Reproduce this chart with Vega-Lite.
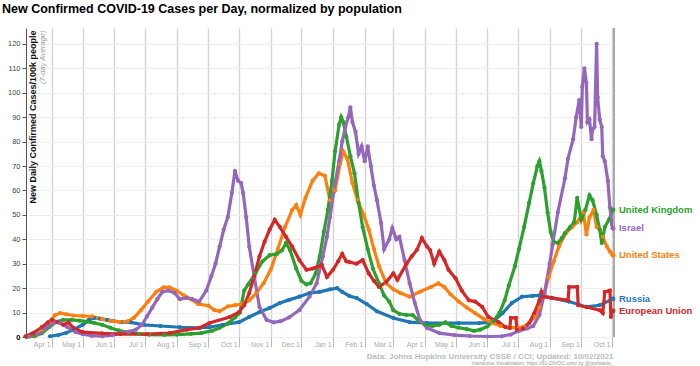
{
  "$schema": "https://vega.github.io/schema/vega-lite/v6.json",
  "width": 588,
  "height": 309,
  "autosize": {"type": "none"},
  "padding": {"left": 26, "top": 28, "right": 86, "bottom": 29},
  "background": "white",
  "config": {"view": {"stroke": null}, "font": "Liberation Sans"},
  "title": {
    "text": "New Confirmed COVID-19 Cases per Day, normalized by population",
    "anchor": "start",
    "frame": "group",
    "dx": -24,
    "offset": 2,
    "baseline": "alphabetic",
    "fontSize": 12.5,
    "font": "Liberation Sans",
    "fontWeight": "bold",
    "color": "#000000"
  },
  "datasets": {
    "labels": [
      {"country": "United Kingdom", "date": "2021-10-02", "value": 52},
      {"country": "Israel", "date": "2021-10-02", "value": 44.5},
      {"country": "United States", "date": "2021-10-02", "value": 33.5},
      {"country": "Russia", "date": "2021-10-02", "value": 15.6},
      {"country": "European Union", "date": "2021-10-02", "value": 10.7}
    ],
    "series": [
      {"country": "Russia", "date": "2020-03-30", "value": 0.3},
      {"country": "Russia", "date": "2020-04-07", "value": 0.8},
      {"country": "Russia", "date": "2020-04-15", "value": 1.7},
      {"country": "Russia", "date": "2020-04-22", "value": 3},
      {"country": "Russia", "date": "2020-05-01", "value": 5},
      {"country": "Russia", "date": "2020-05-07", "value": 7},
      {"country": "Russia", "date": "2020-05-12", "value": 7.8},
      {"country": "Russia", "date": "2020-05-18", "value": 7.5},
      {"country": "Russia", "date": "2020-05-25", "value": 7},
      {"country": "Russia", "date": "2020-06-07", "value": 6.1},
      {"country": "Russia", "date": "2020-06-17", "value": 6},
      {"country": "Russia", "date": "2020-06-30", "value": 5},
      {"country": "Russia", "date": "2020-07-16", "value": 4.5},
      {"country": "Russia", "date": "2020-08-04", "value": 4},
      {"country": "Russia", "date": "2020-08-23", "value": 3.7},
      {"country": "Russia", "date": "2020-09-02", "value": 4},
      {"country": "Russia", "date": "2020-09-15", "value": 5},
      {"country": "Russia", "date": "2020-10-01", "value": 6.1},
      {"country": "Russia", "date": "2020-10-11", "value": 8.2},
      {"country": "Russia", "date": "2020-10-21", "value": 10.2},
      {"country": "Russia", "date": "2020-10-31", "value": 11.9},
      {"country": "Russia", "date": "2020-11-10", "value": 13.9},
      {"country": "Russia", "date": "2020-11-19", "value": 15.2},
      {"country": "Russia", "date": "2020-11-29", "value": 16.5},
      {"country": "Russia", "date": "2020-12-09", "value": 18},
      {"country": "Russia", "date": "2020-12-19", "value": 18.5},
      {"country": "Russia", "date": "2020-12-29", "value": 19.5},
      {"country": "Russia", "date": "2021-01-05", "value": 20},
      {"country": "Russia", "date": "2021-01-10", "value": 18.5},
      {"country": "Russia", "date": "2021-01-17", "value": 16.8},
      {"country": "Russia", "date": "2021-01-24", "value": 16},
      {"country": "Russia", "date": "2021-02-03", "value": 13.5},
      {"country": "Russia", "date": "2021-02-13", "value": 10.5},
      {"country": "Russia", "date": "2021-03-01", "value": 7.8},
      {"country": "Russia", "date": "2021-03-17", "value": 6.1},
      {"country": "Russia", "date": "2021-04-03", "value": 5.7},
      {"country": "Russia", "date": "2021-05-04", "value": 5.7},
      {"country": "Russia", "date": "2021-05-24", "value": 5.7},
      {"country": "Russia", "date": "2021-06-06", "value": 6.1},
      {"country": "Russia", "date": "2021-06-16", "value": 9.8},
      {"country": "Russia", "date": "2021-06-25", "value": 13.9},
      {"country": "Russia", "date": "2021-07-05", "value": 16.5},
      {"country": "Russia", "date": "2021-07-15", "value": 16.8},
      {"country": "Russia", "date": "2021-07-22", "value": 17},
      {"country": "Russia", "date": "2021-08-03", "value": 16},
      {"country": "Russia", "date": "2021-08-20", "value": 14.5},
      {"country": "Russia", "date": "2021-09-06", "value": 12.3},
      {"country": "Russia", "date": "2021-09-19", "value": 13},
      {"country": "Russia", "date": "2021-10-02", "value": 15.6},

      {"country": "United States", "date": "2020-03-07", "value": 0},
      {"country": "United States", "date": "2020-03-15", "value": 0.3},
      {"country": "United States", "date": "2020-03-22", "value": 2},
      {"country": "United States", "date": "2020-03-29", "value": 6},
      {"country": "United States", "date": "2020-04-04", "value": 9},
      {"country": "United States", "date": "2020-04-09", "value": 9.8},
      {"country": "United States", "date": "2020-04-15", "value": 9.3},
      {"country": "United States", "date": "2020-04-22", "value": 8.8},
      {"country": "United States", "date": "2020-05-01", "value": 8.6},
      {"country": "United States", "date": "2020-05-10", "value": 8.4},
      {"country": "United States", "date": "2020-05-20", "value": 7.3},
      {"country": "United States", "date": "2020-05-28", "value": 6.6},
      {"country": "United States", "date": "2020-06-06", "value": 6.2},
      {"country": "United States", "date": "2020-06-14", "value": 6.4},
      {"country": "United States", "date": "2020-06-20", "value": 7.8},
      {"country": "United States", "date": "2020-06-27", "value": 11},
      {"country": "United States", "date": "2020-07-04", "value": 14.5},
      {"country": "United States", "date": "2020-07-12", "value": 18.5},
      {"country": "United States", "date": "2020-07-19", "value": 20.3},
      {"country": "United States", "date": "2020-07-25", "value": 20.3},
      {"country": "United States", "date": "2020-08-01", "value": 19},
      {"country": "United States", "date": "2020-08-08", "value": 17},
      {"country": "United States", "date": "2020-08-15", "value": 15.5},
      {"country": "United States", "date": "2020-08-22", "value": 13.5},
      {"country": "United States", "date": "2020-09-01", "value": 12.8},
      {"country": "United States", "date": "2020-09-07", "value": 11},
      {"country": "United States", "date": "2020-09-12", "value": 10.5},
      {"country": "United States", "date": "2020-09-20", "value": 12.5},
      {"country": "United States", "date": "2020-09-27", "value": 13},
      {"country": "United States", "date": "2020-10-04", "value": 13.5},
      {"country": "United States", "date": "2020-10-11", "value": 15},
      {"country": "United States", "date": "2020-10-18", "value": 18},
      {"country": "United States", "date": "2020-10-25", "value": 22},
      {"country": "United States", "date": "2020-11-01", "value": 27.5},
      {"country": "United States", "date": "2020-11-08", "value": 36},
      {"country": "United States", "date": "2020-11-15", "value": 45},
      {"country": "United States", "date": "2020-11-22", "value": 52},
      {"country": "United States", "date": "2020-11-26", "value": 54},
      {"country": "United States", "date": "2020-11-30", "value": 50},
      {"country": "United States", "date": "2020-12-05", "value": 57},
      {"country": "United States", "date": "2020-12-12", "value": 64},
      {"country": "United States", "date": "2020-12-18", "value": 67},
      {"country": "United States", "date": "2020-12-24", "value": 66},
      {"country": "United States", "date": "2020-12-29", "value": 56},
      {"country": "United States", "date": "2021-01-03", "value": 60},
      {"country": "United States", "date": "2021-01-08", "value": 71},
      {"country": "United States", "date": "2021-01-11", "value": 76},
      {"country": "United States", "date": "2021-01-15", "value": 73},
      {"country": "United States", "date": "2021-01-20", "value": 63},
      {"country": "United States", "date": "2021-01-25", "value": 56},
      {"country": "United States", "date": "2021-01-31", "value": 50},
      {"country": "United States", "date": "2021-02-05", "value": 44},
      {"country": "United States", "date": "2021-02-10", "value": 36},
      {"country": "United States", "date": "2021-02-15", "value": 29},
      {"country": "United States", "date": "2021-02-22", "value": 22},
      {"country": "United States", "date": "2021-03-01", "value": 19.5},
      {"country": "United States", "date": "2021-03-08", "value": 18},
      {"country": "United States", "date": "2021-03-17", "value": 16.5},
      {"country": "United States", "date": "2021-03-27", "value": 18.5},
      {"country": "United States", "date": "2021-04-07", "value": 20.5},
      {"country": "United States", "date": "2021-04-14", "value": 22},
      {"country": "United States", "date": "2021-04-20", "value": 20.5},
      {"country": "United States", "date": "2021-04-26", "value": 17.5},
      {"country": "United States", "date": "2021-05-04", "value": 14.5},
      {"country": "United States", "date": "2021-05-12", "value": 12},
      {"country": "United States", "date": "2021-05-20", "value": 9.8},
      {"country": "United States", "date": "2021-05-28", "value": 7.5},
      {"country": "United States", "date": "2021-06-06", "value": 5.7},
      {"country": "United States", "date": "2021-06-14", "value": 4.5},
      {"country": "United States", "date": "2021-06-22", "value": 3.8},
      {"country": "United States", "date": "2021-07-02", "value": 3.8},
      {"country": "United States", "date": "2021-07-07", "value": 4.3},
      {"country": "United States", "date": "2021-07-12", "value": 5.7},
      {"country": "United States", "date": "2021-07-18", "value": 8.5},
      {"country": "United States", "date": "2021-07-22", "value": 12},
      {"country": "United States", "date": "2021-07-27", "value": 18},
      {"country": "United States", "date": "2021-07-31", "value": 24.5},
      {"country": "United States", "date": "2021-08-05", "value": 31},
      {"country": "United States", "date": "2021-08-10", "value": 37},
      {"country": "United States", "date": "2021-08-17", "value": 42.6},
      {"country": "United States", "date": "2021-08-23", "value": 45},
      {"country": "United States", "date": "2021-08-28", "value": 47},
      {"country": "United States", "date": "2021-09-03", "value": 51},
      {"country": "United States", "date": "2021-09-06", "value": 42},
      {"country": "United States", "date": "2021-09-09", "value": 49},
      {"country": "United States", "date": "2021-09-13", "value": 52},
      {"country": "United States", "date": "2021-09-16", "value": 45},
      {"country": "United States", "date": "2021-09-19", "value": 44},
      {"country": "United States", "date": "2021-09-22", "value": 41},
      {"country": "United States", "date": "2021-09-26", "value": 37},
      {"country": "United States", "date": "2021-09-29", "value": 35},
      {"country": "United States", "date": "2021-10-02", "value": 33.5},

      {"country": "United Kingdom", "date": "2020-03-07", "value": 0.1},
      {"country": "United Kingdom", "date": "2020-03-15", "value": 0.4},
      {"country": "United Kingdom", "date": "2020-03-22", "value": 1.5},
      {"country": "United Kingdom", "date": "2020-03-29", "value": 4},
      {"country": "United Kingdom", "date": "2020-04-05", "value": 6.2},
      {"country": "United Kingdom", "date": "2020-04-12", "value": 7},
      {"country": "United Kingdom", "date": "2020-04-20", "value": 7},
      {"country": "United Kingdom", "date": "2020-04-28", "value": 6.7},
      {"country": "United Kingdom", "date": "2020-05-05", "value": 6.3},
      {"country": "United Kingdom", "date": "2020-05-12", "value": 5.8},
      {"country": "United Kingdom", "date": "2020-05-20", "value": 5},
      {"country": "United Kingdom", "date": "2020-05-28", "value": 3.8},
      {"country": "United Kingdom", "date": "2020-06-05", "value": 2.7},
      {"country": "United Kingdom", "date": "2020-06-15", "value": 1.8},
      {"country": "United Kingdom", "date": "2020-06-25", "value": 1.3},
      {"country": "United Kingdom", "date": "2020-07-05", "value": 1},
      {"country": "United Kingdom", "date": "2020-07-20", "value": 0.9},
      {"country": "United Kingdom", "date": "2020-08-01", "value": 1},
      {"country": "United Kingdom", "date": "2020-08-15", "value": 1.3},
      {"country": "United Kingdom", "date": "2020-08-25", "value": 1.6},
      {"country": "United Kingdom", "date": "2020-09-05", "value": 2.6},
      {"country": "United Kingdom", "date": "2020-09-12", "value": 3.8},
      {"country": "United Kingdom", "date": "2020-09-20", "value": 5.5},
      {"country": "United Kingdom", "date": "2020-09-27", "value": 8},
      {"country": "United Kingdom", "date": "2020-10-02", "value": 10},
      {"country": "United Kingdom", "date": "2020-10-06", "value": 19},
      {"country": "United Kingdom", "date": "2020-10-10", "value": 21.5},
      {"country": "United Kingdom", "date": "2020-10-17", "value": 26},
      {"country": "United Kingdom", "date": "2020-10-24", "value": 31},
      {"country": "United Kingdom", "date": "2020-10-31", "value": 33.5},
      {"country": "United Kingdom", "date": "2020-11-07", "value": 34},
      {"country": "United Kingdom", "date": "2020-11-12", "value": 35.5},
      {"country": "United Kingdom", "date": "2020-11-16", "value": 38.5},
      {"country": "United Kingdom", "date": "2020-11-20", "value": 35.5},
      {"country": "United Kingdom", "date": "2020-11-26", "value": 28},
      {"country": "United Kingdom", "date": "2020-12-01", "value": 23},
      {"country": "United Kingdom", "date": "2020-12-06", "value": 21.5},
      {"country": "United Kingdom", "date": "2020-12-10", "value": 22},
      {"country": "United Kingdom", "date": "2020-12-15", "value": 26},
      {"country": "United Kingdom", "date": "2020-12-19", "value": 33},
      {"country": "United Kingdom", "date": "2020-12-23", "value": 43},
      {"country": "United Kingdom", "date": "2020-12-27", "value": 52},
      {"country": "United Kingdom", "date": "2020-12-31", "value": 64},
      {"country": "United Kingdom", "date": "2021-01-03", "value": 76},
      {"country": "United Kingdom", "date": "2021-01-07", "value": 87},
      {"country": "United Kingdom", "date": "2021-01-09", "value": 90},
      {"country": "United Kingdom", "date": "2021-01-11", "value": 88},
      {"country": "United Kingdom", "date": "2021-01-14", "value": 82},
      {"country": "United Kingdom", "date": "2021-01-18", "value": 74},
      {"country": "United Kingdom", "date": "2021-01-22", "value": 67},
      {"country": "United Kingdom", "date": "2021-01-26", "value": 55},
      {"country": "United Kingdom", "date": "2021-01-30", "value": 45},
      {"country": "United Kingdom", "date": "2021-02-04", "value": 36},
      {"country": "United Kingdom", "date": "2021-02-09", "value": 28},
      {"country": "United Kingdom", "date": "2021-02-15", "value": 22},
      {"country": "United Kingdom", "date": "2021-02-20", "value": 17},
      {"country": "United Kingdom", "date": "2021-02-25", "value": 14.5},
      {"country": "United Kingdom", "date": "2021-03-01", "value": 11},
      {"country": "United Kingdom", "date": "2021-03-07", "value": 9.5},
      {"country": "United Kingdom", "date": "2021-03-14", "value": 9},
      {"country": "United Kingdom", "date": "2021-03-20", "value": 9},
      {"country": "United Kingdom", "date": "2021-03-25", "value": 7},
      {"country": "United Kingdom", "date": "2021-04-01", "value": 5.2},
      {"country": "United Kingdom", "date": "2021-04-08", "value": 4.5},
      {"country": "United Kingdom", "date": "2021-04-15", "value": 5},
      {"country": "United Kingdom", "date": "2021-04-21", "value": 6},
      {"country": "United Kingdom", "date": "2021-04-27", "value": 4.5},
      {"country": "United Kingdom", "date": "2021-05-04", "value": 3.8},
      {"country": "United Kingdom", "date": "2021-05-12", "value": 3.2},
      {"country": "United Kingdom", "date": "2021-05-19", "value": 2.5},
      {"country": "United Kingdom", "date": "2021-05-25", "value": 3},
      {"country": "United Kingdom", "date": "2021-06-01", "value": 4.3},
      {"country": "United Kingdom", "date": "2021-06-07", "value": 6.5},
      {"country": "United Kingdom", "date": "2021-06-13", "value": 10},
      {"country": "United Kingdom", "date": "2021-06-18", "value": 15},
      {"country": "United Kingdom", "date": "2021-06-22", "value": 21},
      {"country": "United Kingdom", "date": "2021-06-28", "value": 29},
      {"country": "United Kingdom", "date": "2021-07-02", "value": 36},
      {"country": "United Kingdom", "date": "2021-07-07", "value": 45},
      {"country": "United Kingdom", "date": "2021-07-12", "value": 55},
      {"country": "United Kingdom", "date": "2021-07-16", "value": 63},
      {"country": "United Kingdom", "date": "2021-07-20", "value": 70},
      {"country": "United Kingdom", "date": "2021-07-22", "value": 72},
      {"country": "United Kingdom", "date": "2021-07-24", "value": 68},
      {"country": "United Kingdom", "date": "2021-07-27", "value": 61},
      {"country": "United Kingdom", "date": "2021-07-30", "value": 51},
      {"country": "United Kingdom", "date": "2021-08-02", "value": 43},
      {"country": "United Kingdom", "date": "2021-08-05", "value": 39},
      {"country": "United Kingdom", "date": "2021-08-09", "value": 38.5},
      {"country": "United Kingdom", "date": "2021-08-13", "value": 40.5},
      {"country": "United Kingdom", "date": "2021-08-16", "value": 42.5},
      {"country": "United Kingdom", "date": "2021-08-21", "value": 45},
      {"country": "United Kingdom", "date": "2021-08-25", "value": 47},
      {"country": "United Kingdom", "date": "2021-08-28", "value": 57},
      {"country": "United Kingdom", "date": "2021-09-01", "value": 48},
      {"country": "United Kingdom", "date": "2021-09-05", "value": 52},
      {"country": "United Kingdom", "date": "2021-09-09", "value": 58},
      {"country": "United Kingdom", "date": "2021-09-12", "value": 56},
      {"country": "United Kingdom", "date": "2021-09-16", "value": 50},
      {"country": "United Kingdom", "date": "2021-09-19", "value": 44},
      {"country": "United Kingdom", "date": "2021-09-21", "value": 38.5},
      {"country": "United Kingdom", "date": "2021-09-24", "value": 45},
      {"country": "United Kingdom", "date": "2021-09-28", "value": 48},
      {"country": "United Kingdom", "date": "2021-10-02", "value": 52},

      {"country": "Israel", "date": "2020-03-10", "value": 0.2},
      {"country": "Israel", "date": "2020-03-20", "value": 1.5},
      {"country": "Israel", "date": "2020-03-28", "value": 4.5},
      {"country": "Israel", "date": "2020-04-03", "value": 6},
      {"country": "Israel", "date": "2020-04-09", "value": 5.8},
      {"country": "Israel", "date": "2020-04-16", "value": 4},
      {"country": "Israel", "date": "2020-04-24", "value": 2},
      {"country": "Israel", "date": "2020-05-01", "value": 1.2},
      {"country": "Israel", "date": "2020-05-10", "value": 0.5},
      {"country": "Israel", "date": "2020-05-20", "value": 0.3},
      {"country": "Israel", "date": "2020-05-30", "value": 0.8},
      {"country": "Israel", "date": "2020-06-07", "value": 1.5},
      {"country": "Israel", "date": "2020-06-15", "value": 2.2},
      {"country": "Israel", "date": "2020-06-22", "value": 3},
      {"country": "Israel", "date": "2020-06-28", "value": 5},
      {"country": "Israel", "date": "2020-07-03", "value": 8.5},
      {"country": "Israel", "date": "2020-07-08", "value": 12},
      {"country": "Israel", "date": "2020-07-13", "value": 15.5},
      {"country": "Israel", "date": "2020-07-18", "value": 18.5},
      {"country": "Israel", "date": "2020-07-24", "value": 19},
      {"country": "Israel", "date": "2020-07-30", "value": 18},
      {"country": "Israel", "date": "2020-08-04", "value": 15.5},
      {"country": "Israel", "date": "2020-08-10", "value": 16},
      {"country": "Israel", "date": "2020-08-16", "value": 15.5},
      {"country": "Israel", "date": "2020-08-23", "value": 14.5},
      {"country": "Israel", "date": "2020-08-30", "value": 19},
      {"country": "Israel", "date": "2020-09-04", "value": 25},
      {"country": "Israel", "date": "2020-09-08", "value": 30},
      {"country": "Israel", "date": "2020-09-12", "value": 37},
      {"country": "Israel", "date": "2020-09-16", "value": 44},
      {"country": "Israel", "date": "2020-09-20", "value": 49},
      {"country": "Israel", "date": "2020-09-24", "value": 59},
      {"country": "Israel", "date": "2020-09-27", "value": 68},
      {"country": "Israel", "date": "2020-09-30", "value": 64},
      {"country": "Israel", "date": "2020-10-03", "value": 63},
      {"country": "Israel", "date": "2020-10-05", "value": 59},
      {"country": "Israel", "date": "2020-10-08", "value": 49},
      {"country": "Israel", "date": "2020-10-11", "value": 37},
      {"country": "Israel", "date": "2020-10-16", "value": 24.5},
      {"country": "Israel", "date": "2020-10-21", "value": 12.3},
      {"country": "Israel", "date": "2020-10-28", "value": 7},
      {"country": "Israel", "date": "2020-11-04", "value": 6},
      {"country": "Israel", "date": "2020-11-11", "value": 6.5},
      {"country": "Israel", "date": "2020-11-19", "value": 8},
      {"country": "Israel", "date": "2020-11-29", "value": 11},
      {"country": "Israel", "date": "2020-12-09", "value": 16.5},
      {"country": "Israel", "date": "2020-12-16", "value": 22},
      {"country": "Israel", "date": "2020-12-22", "value": 33},
      {"country": "Israel", "date": "2020-12-26", "value": 41},
      {"country": "Israel", "date": "2020-12-29", "value": 49},
      {"country": "Israel", "date": "2021-01-03", "value": 63},
      {"country": "Israel", "date": "2021-01-07", "value": 72},
      {"country": "Israel", "date": "2021-01-10", "value": 80},
      {"country": "Israel", "date": "2021-01-13", "value": 86},
      {"country": "Israel", "date": "2021-01-16", "value": 90},
      {"country": "Israel", "date": "2021-01-18", "value": 94},
      {"country": "Israel", "date": "2021-01-20", "value": 88},
      {"country": "Israel", "date": "2021-01-23", "value": 84},
      {"country": "Israel", "date": "2021-01-26", "value": 75},
      {"country": "Israel", "date": "2021-01-29", "value": 78},
      {"country": "Israel", "date": "2021-02-01", "value": 72},
      {"country": "Israel", "date": "2021-02-04", "value": 78},
      {"country": "Israel", "date": "2021-02-07", "value": 70},
      {"country": "Israel", "date": "2021-02-10", "value": 62},
      {"country": "Israel", "date": "2021-02-13", "value": 56},
      {"country": "Israel", "date": "2021-02-17", "value": 46.7},
      {"country": "Israel", "date": "2021-02-20", "value": 36},
      {"country": "Israel", "date": "2021-02-25", "value": 40},
      {"country": "Israel", "date": "2021-02-28", "value": 44.6},
      {"country": "Israel", "date": "2021-03-04", "value": 40},
      {"country": "Israel", "date": "2021-03-07", "value": 41},
      {"country": "Israel", "date": "2021-03-12", "value": 31.5},
      {"country": "Israel", "date": "2021-03-17", "value": 22},
      {"country": "Israel", "date": "2021-03-22", "value": 14},
      {"country": "Israel", "date": "2021-03-27", "value": 7},
      {"country": "Israel", "date": "2021-04-03", "value": 3.7},
      {"country": "Israel", "date": "2021-04-15", "value": 1.6},
      {"country": "Israel", "date": "2021-04-30", "value": 0.8},
      {"country": "Israel", "date": "2021-05-15", "value": 0.4},
      {"country": "Israel", "date": "2021-06-01", "value": 0.2},
      {"country": "Israel", "date": "2021-06-15", "value": 0.3},
      {"country": "Israel", "date": "2021-06-24", "value": 1},
      {"country": "Israel", "date": "2021-07-02", "value": 2.5},
      {"country": "Israel", "date": "2021-07-10", "value": 3.5},
      {"country": "Israel", "date": "2021-07-16", "value": 4.5},
      {"country": "Israel", "date": "2021-07-22", "value": 9},
      {"country": "Israel", "date": "2021-07-27", "value": 18},
      {"country": "Israel", "date": "2021-08-01", "value": 30},
      {"country": "Israel", "date": "2021-08-04", "value": 38},
      {"country": "Israel", "date": "2021-08-09", "value": 51},
      {"country": "Israel", "date": "2021-08-16", "value": 65},
      {"country": "Israel", "date": "2021-08-19", "value": 73},
      {"country": "Israel", "date": "2021-08-24", "value": 81},
      {"country": "Israel", "date": "2021-08-27", "value": 90},
      {"country": "Israel", "date": "2021-08-30", "value": 97},
      {"country": "Israel", "date": "2021-09-01", "value": 86},
      {"country": "Israel", "date": "2021-09-02", "value": 102.5},
      {"country": "Israel", "date": "2021-09-04", "value": 110},
      {"country": "Israel", "date": "2021-09-06", "value": 104},
      {"country": "Israel", "date": "2021-09-07", "value": 88},
      {"country": "Israel", "date": "2021-09-09", "value": 89},
      {"country": "Israel", "date": "2021-09-11", "value": 81},
      {"country": "Israel", "date": "2021-09-12", "value": 85},
      {"country": "Israel", "date": "2021-09-14", "value": 86},
      {"country": "Israel", "date": "2021-09-16", "value": 120},
      {"country": "Israel", "date": "2021-09-17", "value": 98},
      {"country": "Israel", "date": "2021-09-19", "value": 89},
      {"country": "Israel", "date": "2021-09-21", "value": 86},
      {"country": "Israel", "date": "2021-09-22", "value": 74},
      {"country": "Israel", "date": "2021-09-24", "value": 72},
      {"country": "Israel", "date": "2021-09-27", "value": 64},
      {"country": "Israel", "date": "2021-09-29", "value": 53},
      {"country": "Israel", "date": "2021-10-01", "value": 46},
      {"country": "Israel", "date": "2021-10-02", "value": 44.5},

      {"country": "European Union", "date": "2020-03-06", "value": 0.3},
      {"country": "European Union", "date": "2020-03-13", "value": 1.5},
      {"country": "European Union", "date": "2020-03-22", "value": 4},
      {"country": "European Union", "date": "2020-03-28", "value": 6},
      {"country": "European Union", "date": "2020-04-01", "value": 7},
      {"country": "European Union", "date": "2020-04-06", "value": 6.2},
      {"country": "European Union", "date": "2020-04-12", "value": 5},
      {"country": "European Union", "date": "2020-04-17", "value": 6},
      {"country": "European Union", "date": "2020-04-22", "value": 3.7},
      {"country": "European Union", "date": "2020-05-01", "value": 2},
      {"country": "European Union", "date": "2020-05-20", "value": 1.5},
      {"country": "European Union", "date": "2020-06-07", "value": 1.2},
      {"country": "European Union", "date": "2020-07-03", "value": 1.2},
      {"country": "European Union", "date": "2020-07-25", "value": 1.6},
      {"country": "European Union", "date": "2020-08-11", "value": 3},
      {"country": "European Union", "date": "2020-08-23", "value": 3.7},
      {"country": "European Union", "date": "2020-09-02", "value": 5.7},
      {"country": "European Union", "date": "2020-09-22", "value": 8.2},
      {"country": "European Union", "date": "2020-10-01", "value": 10.2},
      {"country": "European Union", "date": "2020-10-06", "value": 13},
      {"country": "European Union", "date": "2020-10-11", "value": 18},
      {"country": "European Union", "date": "2020-10-16", "value": 25},
      {"country": "European Union", "date": "2020-10-21", "value": 33},
      {"country": "European Union", "date": "2020-10-26", "value": 39},
      {"country": "European Union", "date": "2020-10-31", "value": 44},
      {"country": "European Union", "date": "2020-11-05", "value": 48},
      {"country": "European Union", "date": "2020-11-10", "value": 45},
      {"country": "European Union", "date": "2020-11-16", "value": 41},
      {"country": "European Union", "date": "2020-11-22", "value": 37},
      {"country": "European Union", "date": "2020-11-29", "value": 31.5},
      {"country": "European Union", "date": "2020-12-06", "value": 27.5},
      {"country": "European Union", "date": "2020-12-12", "value": 28},
      {"country": "European Union", "date": "2020-12-21", "value": 29.5},
      {"country": "European Union", "date": "2020-12-26", "value": 24.6},
      {"country": "European Union", "date": "2021-01-01", "value": 27.5},
      {"country": "European Union", "date": "2021-01-06", "value": 31},
      {"country": "European Union", "date": "2021-01-10", "value": 34},
      {"country": "European Union", "date": "2021-01-14", "value": 31},
      {"country": "European Union", "date": "2021-01-17", "value": 30.7},
      {"country": "European Union", "date": "2021-01-24", "value": 30},
      {"country": "European Union", "date": "2021-01-30", "value": 31.5},
      {"country": "European Union", "date": "2021-02-05", "value": 26},
      {"country": "European Union", "date": "2021-02-10", "value": 23},
      {"country": "European Union", "date": "2021-02-15", "value": 20.5},
      {"country": "European Union", "date": "2021-02-22", "value": 22.5},
      {"country": "European Union", "date": "2021-03-01", "value": 26},
      {"country": "European Union", "date": "2021-03-05", "value": 23.4},
      {"country": "European Union", "date": "2021-03-14", "value": 30},
      {"country": "European Union", "date": "2021-03-19", "value": 33},
      {"country": "European Union", "date": "2021-03-24", "value": 35.6},
      {"country": "European Union", "date": "2021-03-29", "value": 40.5},
      {"country": "European Union", "date": "2021-04-03", "value": 37},
      {"country": "European Union", "date": "2021-04-06", "value": 35.6},
      {"country": "European Union", "date": "2021-04-10", "value": 30},
      {"country": "European Union", "date": "2021-04-15", "value": 35},
      {"country": "European Union", "date": "2021-04-20", "value": 31.5},
      {"country": "European Union", "date": "2021-04-24", "value": 27.5},
      {"country": "European Union", "date": "2021-05-01", "value": 24},
      {"country": "European Union", "date": "2021-05-07", "value": 19},
      {"country": "European Union", "date": "2021-05-14", "value": 15},
      {"country": "European Union", "date": "2021-05-20", "value": 14.5},
      {"country": "European Union", "date": "2021-05-27", "value": 12.3},
      {"country": "European Union", "date": "2021-06-02", "value": 8.2},
      {"country": "European Union", "date": "2021-06-12", "value": 6.1},
      {"country": "European Union", "date": "2021-06-19", "value": 4},
      {"country": "European Union", "date": "2021-06-23", "value": 3.7},
      {"country": "European Union", "date": "2021-06-24", "value": 7.8},
      {"country": "European Union", "date": "2021-06-29", "value": 7.8},
      {"country": "European Union", "date": "2021-06-30", "value": 3},
      {"country": "European Union", "date": "2021-07-06", "value": 3.5},
      {"country": "European Union", "date": "2021-07-12", "value": 5.7},
      {"country": "European Union", "date": "2021-07-17", "value": 9.8},
      {"country": "European Union", "date": "2021-07-22", "value": 15},
      {"country": "European Union", "date": "2021-07-24", "value": 18.5},
      {"country": "European Union", "date": "2021-07-26", "value": 16.5},
      {"country": "European Union", "date": "2021-08-03", "value": 16},
      {"country": "European Union", "date": "2021-08-19", "value": 15},
      {"country": "European Union", "date": "2021-08-20", "value": 20.5},
      {"country": "European Union", "date": "2021-08-28", "value": 20.5},
      {"country": "European Union", "date": "2021-08-29", "value": 13},
      {"country": "European Union", "date": "2021-09-06", "value": 12.3},
      {"country": "European Union", "date": "2021-09-19", "value": 11},
      {"country": "European Union", "date": "2021-09-22", "value": 9.8},
      {"country": "European Union", "date": "2021-09-24", "value": 18.5},
      {"country": "European Union", "date": "2021-09-29", "value": 19},
      {"country": "European Union", "date": "2021-09-30", "value": 8.2},
      {"country": "European Union", "date": "2021-10-02", "value": 10.7}
    ]
  },
  "resolve": {"axis": {"x": "independent", "y": "independent"}},
  "layer": [
    {
      "data": {"name": "series"},
      "mark": {"type": "line", "strokeWidth": 3.2, "point": {"filled": true, "size": 18}},
      "encoding": {
        "x": {
          "field": "date", "type": "temporal",
          "scale": {"domain": [{"year": 2020, "month": 3, "date": 6, "hours": 12}, {"year": 2021, "month": 10, "date": 3}]},
          "axis": {
            "tickCount": {"interval": "month", "step": 1},
            "format": "%b %-d",
            "labelAlign": "right",
            "labelOffset": -2,
            "labelPadding": -7,
            "labelFontSize": 7,
            "labelColor": "#aaaaaa",
            "labelFont": "Liberation Sans",
            "labelOverlap": false,
            "labelFlush": false,
            "tickSize": 10,
            "tickColor": "#bbbbbb",
            "tickWidth": 1,
            "grid": true,
            "gridColor": "#d4d4d4",
            "gridWidth": 1.4,
            "domain": false,
            "title": "Data: Johns Hopkins University CSSE / CCI; Updated: 10/02/2021",
            "titleX": 587,
            "titleY": 21,
            "titleAlign": "right",
            "titleBaseline": "alphabetic",
            "titleFontSize": 8,
            "titleFontWeight": "bold",
            "titleColor": "#bbbbbb",
            "titleFont": "Liberation Sans"
          }
        },
        "y": {
          "field": "value", "type": "quantitative",
          "scale": {"domain": [0, 126.5], "nice": false},
          "axis": {
            "values": [0, 10, 20, 30, 40, 50, 60, 70, 80, 90, 100, 110, 120],
            "tickSize": 4,
            "tickColor": "#555555",
            "labelPadding": 2,
            "labelFontSize": 7.5,
            "labelColor": {"condition": {"test": "datum.value === 0", "value": "#000000"}, "value": "#444444"},
            "labelFontWeight": {"condition": {"test": "datum.value === 0", "value": "bold"}, "value": "normal"},
            "labelFont": "Liberation Sans",
            "grid": true,
            "gridColor": "#eeeeee",
            "gridWidth": 1,
            "domainColor": "#555555",
            "title": "New Daily Confirmed Cases/100k people",
            "titleAngle": -90,
            "titleX": 2,
            "titleY": 2,
            "titleAlign": "right",
            "titleBaseline": "top",
            "titleFontSize": 9,
            "titleFontWeight": "bold",
            "titleColor": "#111111",
            "titleFont": "Liberation Sans"
          }
        },
        "color": {
          "field": "country", "type": "nominal",
          "scale": {
            "domain": ["Russia", "United States", "United Kingdom", "Israel", "European Union"],
            "range": ["#1f77b4", "#ff7f0e", "#2ca02c", "#9467bd", "#d62728"]
          },
          "legend": null
        }
      }
    },
    {
      "data": {"values": [{"date": "2021-10-03"}]},
      "mark": {"type": "rule", "color": "#aaaaaa", "strokeWidth": 2},
      "encoding": {
        "x": {"field": "date", "type": "temporal", "axis": null}
      }
    },
    {
      "data": {"name": "labels"},
      "mark": {"type": "point", "filled": true, "size": 24, "opacity": 1},
      "encoding": {
        "x": {
          "field": "date", "type": "temporal",
          "axis": {
            "orient": "bottom",
            "title": "Interactive Visualization: https://91-DIVOC.com/ by @profwade_",
            "labels": false, "ticks": false, "domain": false, "grid": false,
            "titleX": 587, "titleY": 27, "titleAlign": "right", "titleBaseline": "alphabetic",
            "titleFontSize": 5, "titleFontWeight": "normal", "titleColor": "#999999", "titleFont": "Liberation Sans"
          }
        },
        "y": {
          "field": "value", "type": "quantitative",
          "axis": {
            "orient": "left",
            "title": "(7-day Average)",
            "labels": false, "ticks": false, "domain": false, "grid": false,
            "titleAngle": -90, "titleX": 12, "titleY": 2, "titleAlign": "right", "titleBaseline": "top",
            "titleFontSize": 7.5, "titleFontStyle": "italic", "titleFontWeight": "normal", "titleColor": "#999999", "titleFont": "Liberation Sans"
          }
        },
        "color": {"field": "country", "type": "nominal", "legend": null}
      }
    },
    {
      "data": {"name": "labels"},
      "mark": {"type": "text", "align": "left", "baseline": "middle", "dx": 6, "fontSize": 9.5, "fontWeight": "bold", "font": "Liberation Sans"},
      "encoding": {
        "x": {"field": "date", "type": "temporal", "axis": null},
        "y": {"field": "value", "type": "quantitative", "axis": null},
        "text": {"field": "country"},
        "color": {"field": "country", "type": "nominal", "legend": null}
      }
    }
  ]
}
